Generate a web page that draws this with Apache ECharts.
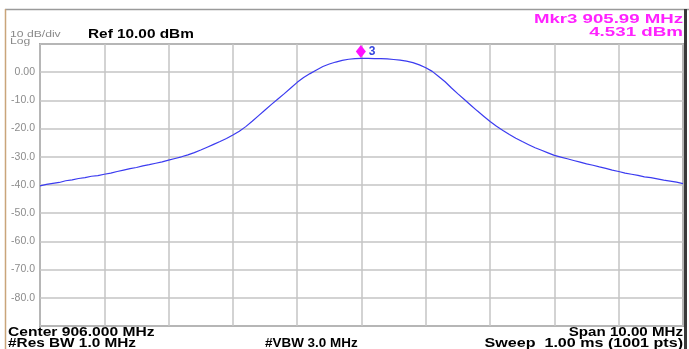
<!DOCTYPE html>
<html><head><meta charset="utf-8">
<script src="https://cdn.jsdelivr.net/npm/echarts@6/dist/echarts.min.js"></script>
<style>html,body{margin:0;padding:0;background:#fff}#c{width:689px;height:349px}</style>
</head><body><div id="c"></div>
<script>
// Sweep: 901.0 .. 911.0 MHz, one reading every 0.1 MHz
const startFreq = 901.0;
const stepFreq = 0.1;
const levels = [
 -40.3,-39.8,-39.4,-39.1,-38.5,-38.2,-37.7,-37.4,-36.9,-36.7,
 -36.2,-35.8,-35.2,-34.7,-34.2,-33.8,-33.2,-32.8,-32.3,-31.8,
 -31.2,-30.6,-30.0,-29.3,-28.5,-27.6,-26.6,-25.6,-24.6,-23.5,
 -22.3,-20.9,-19.3,-17.4,-15.4,-13.4,-11.4,-9.5,-7.6,-5.6,
 -3.6,-1.9,-0.5,0.8,2.0,2.9,3.6,4.2,4.6,4.8,
 4.9,4.9,4.8,4.8,4.7,4.5,4.3,3.9,3.4,2.6,
 1.6,0.3,-1.5,-3.4,-5.6,-7.7,-9.7,-11.7,-13.7,-15.6,
 -17.5,-19.2,-20.7,-22.1,-23.4,-24.6,-25.7,-26.8,-27.7,-28.6,
 -29.5,-30.1,-30.7,-31.3,-31.9,-32.5,-33.0,-33.6,-34.1,-34.7,
 -35.2,-35.8,-36.2,-36.6,-37.1,-37.4,-37.8,-38.3,-38.6,-39.0,
 -39.5
];
const markerFreq = 905.99;
const markerLevel = 4.531;
const yTicks = [10,0,-10,-20,-30,-40,-50,-60,-70,-80,-90];

const data = levels.map((v,i)=>[+(startFreq + i*stepFreq).toFixed(2), v]);

const chart = echarts.init(document.getElementById('c'), null, {renderer:'canvas'});
const F = 'Liberation Sans, Arial, sans-serif';
function txt(x,y,text,opt){
  return Object.assign({type:'text', x:x, y:y, z:50,
    style:{text:text, fill:opt.fill||'#000', font:opt.font, textAlign:opt.align||'left', textVerticalAlign:'middle'}},
    opt.sx ? {scaleX:opt.sx} : {});
}
chart.setOption({
  animation:false,
  grid:{left:40, right:6, top:44, bottom:23, show:true, borderColor:'#666', borderWidth:1.5, backgroundColor:'#fff'},
  xAxis:{type:'value', min:901, max:911, interval:1,
    axisLine:{show:false}, axisTick:{show:false}, axisLabel:{show:false},
    splitLine:{show:true, lineStyle:{color:'#c4c4c4', width:1.5}}},
  yAxis:{type:'value', min:yTicks[yTicks.length-1], max:yTicks[0], interval:10,
    axisLine:{show:false}, axisTick:{show:false},
    axisLabel:{showMinLabel:false, showMaxLabel:false, color:'#8c8c8c', fontSize:10.5, fontFamily:F, margin:5,
      formatter:v=> v===0 ? '0.00' : v.toFixed(1)},
    splitLine:{show:true, lineStyle:{color:'#c4c4c4', width:1.5}}},
  series:[{type:'line', data:data, showSymbol:false, z:5,
    lineStyle:{color:'#3b3bf0', width:1.2},
    markPoint:{symbol:'diamond', symbolSize:[10,13], symbolOffset:[0,-8],
      itemStyle:{color:'#ff10ff'},
      label:{show:true, position:'right', distance:2, formatter:'3', color:'#3344dd', fontWeight:'bold', fontSize:12, fontFamily:F, backgroundColor:'#fff', padding:[0,2,0,1]},
      data:[{coord:[markerFreq, markerLevel]}]}
  }],
  graphic:[
    {type:'line', z:40, shape:{x1:5, y1:9.5, x2:689, y2:9.5}, style:{stroke:'#9a9a9a', lineWidth:1.5}},
    {type:'line', z:40, shape:{x1:5.5, y1:9, x2:5.5, y2:349}, style:{stroke:'#c9a57a', lineWidth:1.5}},
    {type:'line', z:40, shape:{x1:685.5, y1:9, x2:685.5, y2:349}, style:{stroke:'#3a3a3a', lineWidth:3}},
    txt(10,34.5,'10 dB/div',{fill:'#8a8a8a', font:'9px '+F, sx:1.35}),
    txt(10,42,'Log',{fill:'#8a8a8a', font:'9px '+F, sx:1.35}),
    txt(88,34.5,'Ref 10.00 dBm',{font:'bold 12px '+F, sx:1.28}),
    txt(683,19,'Mkr3 905.99 MHz',{fill:'#ff22ff', font:'bold 13.5px '+F, align:'right', sx:1.38}),
    txt(683,32.5,'4.531 dBm',{fill:'#ff22ff', font:'bold 13.5px '+F, align:'right', sx:1.39}),
    txt(8,333,'Center 906.000 MHz',{font:'bold 12px '+F, sx:1.3}),
    txt(8,343.5,'#Res BW 1.0 MHz',{font:'bold 12px '+F, sx:1.28}),
    txt(265,343.5,'#VBW 3.0 MHz',{font:'bold 12px '+F, sx:1.12}),
    txt(683,333,'Span 10.00 MHz',{font:'bold 12px '+F, align:'right', sx:1.26}),
    txt(683,343.5,'Sweep  1.00 ms (1001 pts)',{font:'bold 12px '+F, align:'right', sx:1.34})
  ]
});
</script></body></html>
